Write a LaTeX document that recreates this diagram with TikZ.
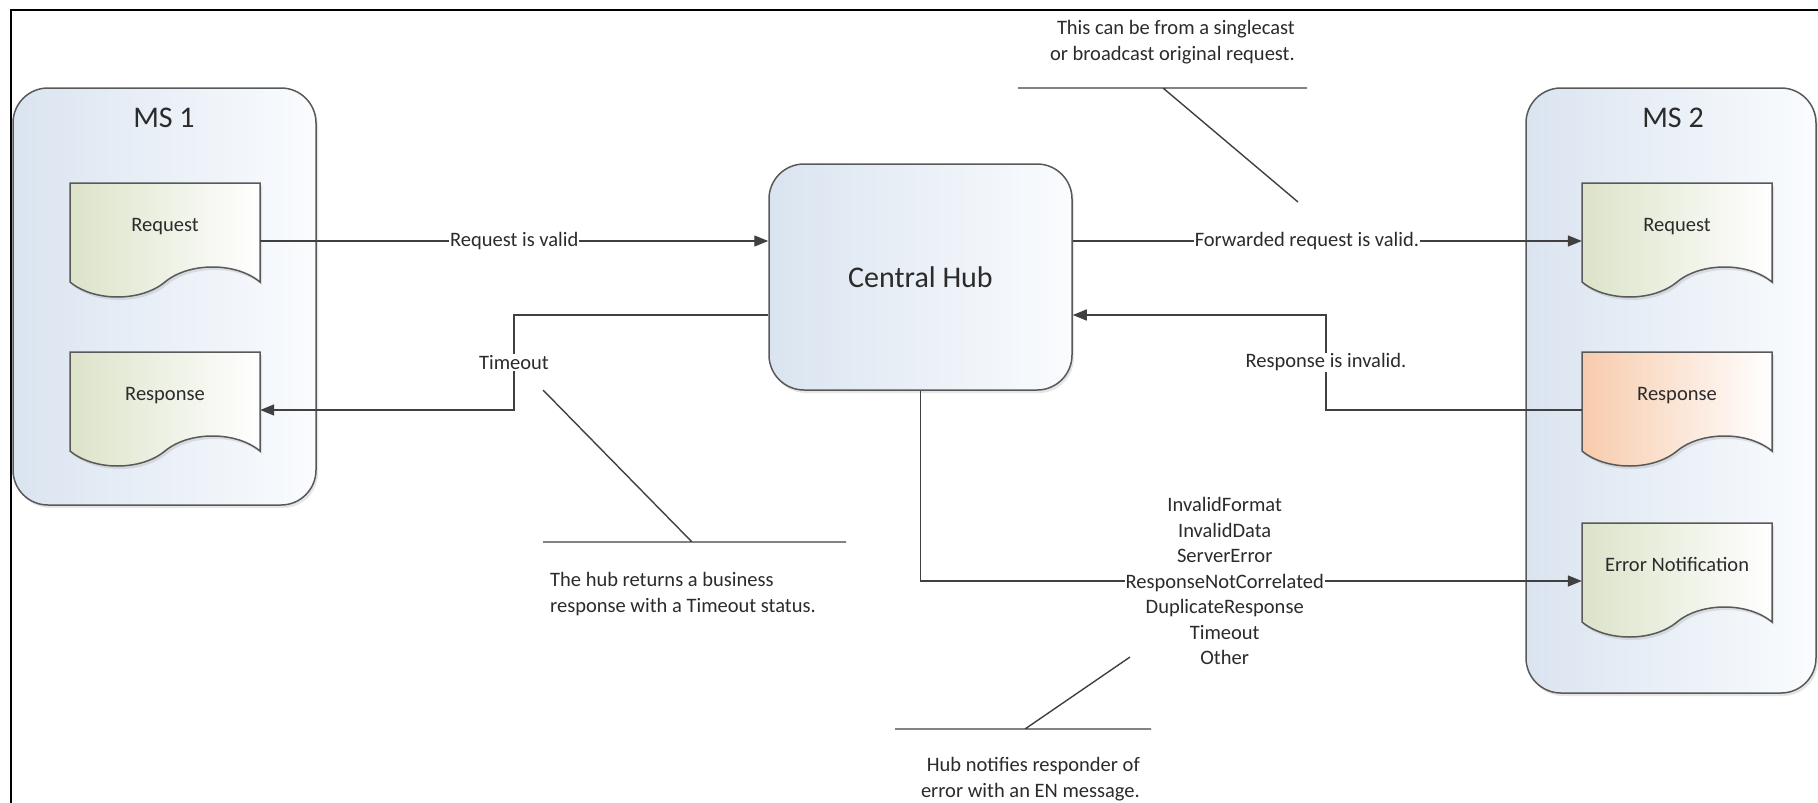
\documentclass[tikz,border=0pt]{standalone}
\usepackage{fontspec}
\setmainfont{Carlito}
\usetikzlibrary{arrows.meta,shadows}

\definecolor{boxleft}{HTML}{DAE4F0}
\definecolor{boxright}{HTML}{FAFCFE}
\definecolor{docgreen}{HTML}{DCE3C9}
\definecolor{docorange}{HTML}{F7CBAC}
\definecolor{edge}{HTML}{595959}
\definecolor{wire}{HTML}{404040}
\definecolor{ink}{HTML}{2B2B2B}

\tikzset{
  container/.style={draw=edge, line width=1.5pt, rounded corners=35pt,
    left color=boxleft, right color=boxright,
    drop shadow={opacity=0.2, shadow xshift=2pt, shadow yshift=-3pt}},
  title/.style={font=\fontsize{30}{36}\selectfont, text=ink},
  docnode/.style={minimum width=190pt, minimum height=116pt, inner sep=0pt,
    text height=0pt, text depth=19pt, font=\fontsize{20.5}{25}\selectfont, text=ink},
  docline/.style={draw=edge, line width=1.5pt},
  arr/.style={draw=wire, line width=1.4pt, -{Triangle[length=14pt,width=11pt]}},
  lbl/.style={fill=white, inner sep=1pt, font=\fontsize{20.5}{25.5}\selectfont, text=ink},
  note/.style={inner sep=0pt, font=\fontsize{20.5}{26.5}\selectfont, text=ink},
  callout/.style={draw=wire, line width=1.4pt},
  frame/.style={draw=black, line width=2.5pt}
}

% document symbol: straight top and sides, wavy bottom edge
\newcommand{\mydoc}[4]{%
  \begin{scope}[shift={#2}]
    \path[docline, left color=#3, right color=white,
      drop shadow={opacity=0.2, shadow xshift=2pt, shadow yshift=-3pt}]
      (-95,-58) -- (95,-58) -- (95,41)
      .. controls (71,21) and (24,21) .. (0,41)
      .. controls (-24,61) and (-71,61) .. (-95,41) -- cycle;
  \end{scope}
  \node[docnode] (#1) at #2 {#4};}

\begin{document}
\begin{tikzpicture}[x=1pt,y=-1pt]
\useasboundingbox (0,0) rectangle (1818,803);

% page frame
\draw[frame] (11,803) -- (11,10) -- (1818,10);

% systems
\node[container, minimum width=303pt, minimum height=417pt] (ms1) at (164.5,296.5) {};
\node[title] (ms1t) at (164,118) {MS 1};
\node[container, minimum width=290pt, minimum height=605pt] (ms2) at (1671,390.5) {};
\node[title] (ms2t) at (1673,118) {MS 2};
\node[container, minimum width=303pt, minimum height=226pt,
      font=\fontsize{30}{36}\selectfont, text=ink] (hub) at (920.5,277) {Central Hub};

% messages
\mydoc{req1}{(165,241)}{docgreen}{Request}
\mydoc{res1}{(165,410)}{docgreen}{Response}
\mydoc{req2}{(1677,241)}{docgreen}{Request}
\mydoc{res2}{(1677,410)}{docorange}{Response}
\mydoc{err}{(1677,581)}{docgreen}{Error Notification}

% flows
\draw[arr] (req1.east) -- node[lbl]{Request is valid} (req1.east -| hub.west);
\draw[arr] (req2.west -| hub.east) -- node[lbl,pos=0.46]{Forwarded request is valid.} (req2.west);

\coordinate (tbend) at (514,410);
\draw[arr] ([yshift=-38pt]hub.west) -| node[lbl,pos=0.75]{Timeout} (tbend) -- (res1.east);

\coordinate (rbend) at (1326,315);
\draw[arr] (res2.west) -| node[lbl,pos=0.75]{Response is invalid.} (rbend) -- ([yshift=-38pt]hub.east);

\draw[arr] (hub.south) |- node[lbl,pos=0.73,align=center]
  {InvalidFormat\\InvalidData\\ServerError\\ResponseNotCorrelated\\DuplicateResponse\\Timeout\\Other} (err.west);

% annotations
\node[note, align=right, anchor=east] (n1) at (1295,42)
  {This can be from a singlecast\\or broadcast original request.};
\coordinate (n1a) at (1018,88);
\coordinate (n1b) at (1307,88);
\coordinate (n1k) at (1163,88);
\coordinate (n1t) at (1298,202);
\draw[callout] (n1a) -- (n1b) (n1k) -- (n1t);

\node[note, align=left, anchor=west] (n2) at (550,594)
  {The hub returns a business\\response with a Timeout status.};
\coordinate (n2a) at (543,542);
\coordinate (n2b) at (846,542);
\coordinate (n2k) at (692,542);
\coordinate (n2t) at (543,390);
\draw[callout] (n2a) -- (n2b) (n2k) -- (n2t);

\node[note, align=right, anchor=east] (n3) at (1140,779)
  {Hub notifies responder of\\error with an EN message.};
\coordinate (n3a) at (895,729);
\coordinate (n3b) at (1151,729);
\coordinate (n3k) at (1025,729);
\coordinate (n3t) at (1130,657);
\draw[callout] (n3a) -- (n3b) (n3k) -- (n3t);
\end{tikzpicture}
\end{document}
